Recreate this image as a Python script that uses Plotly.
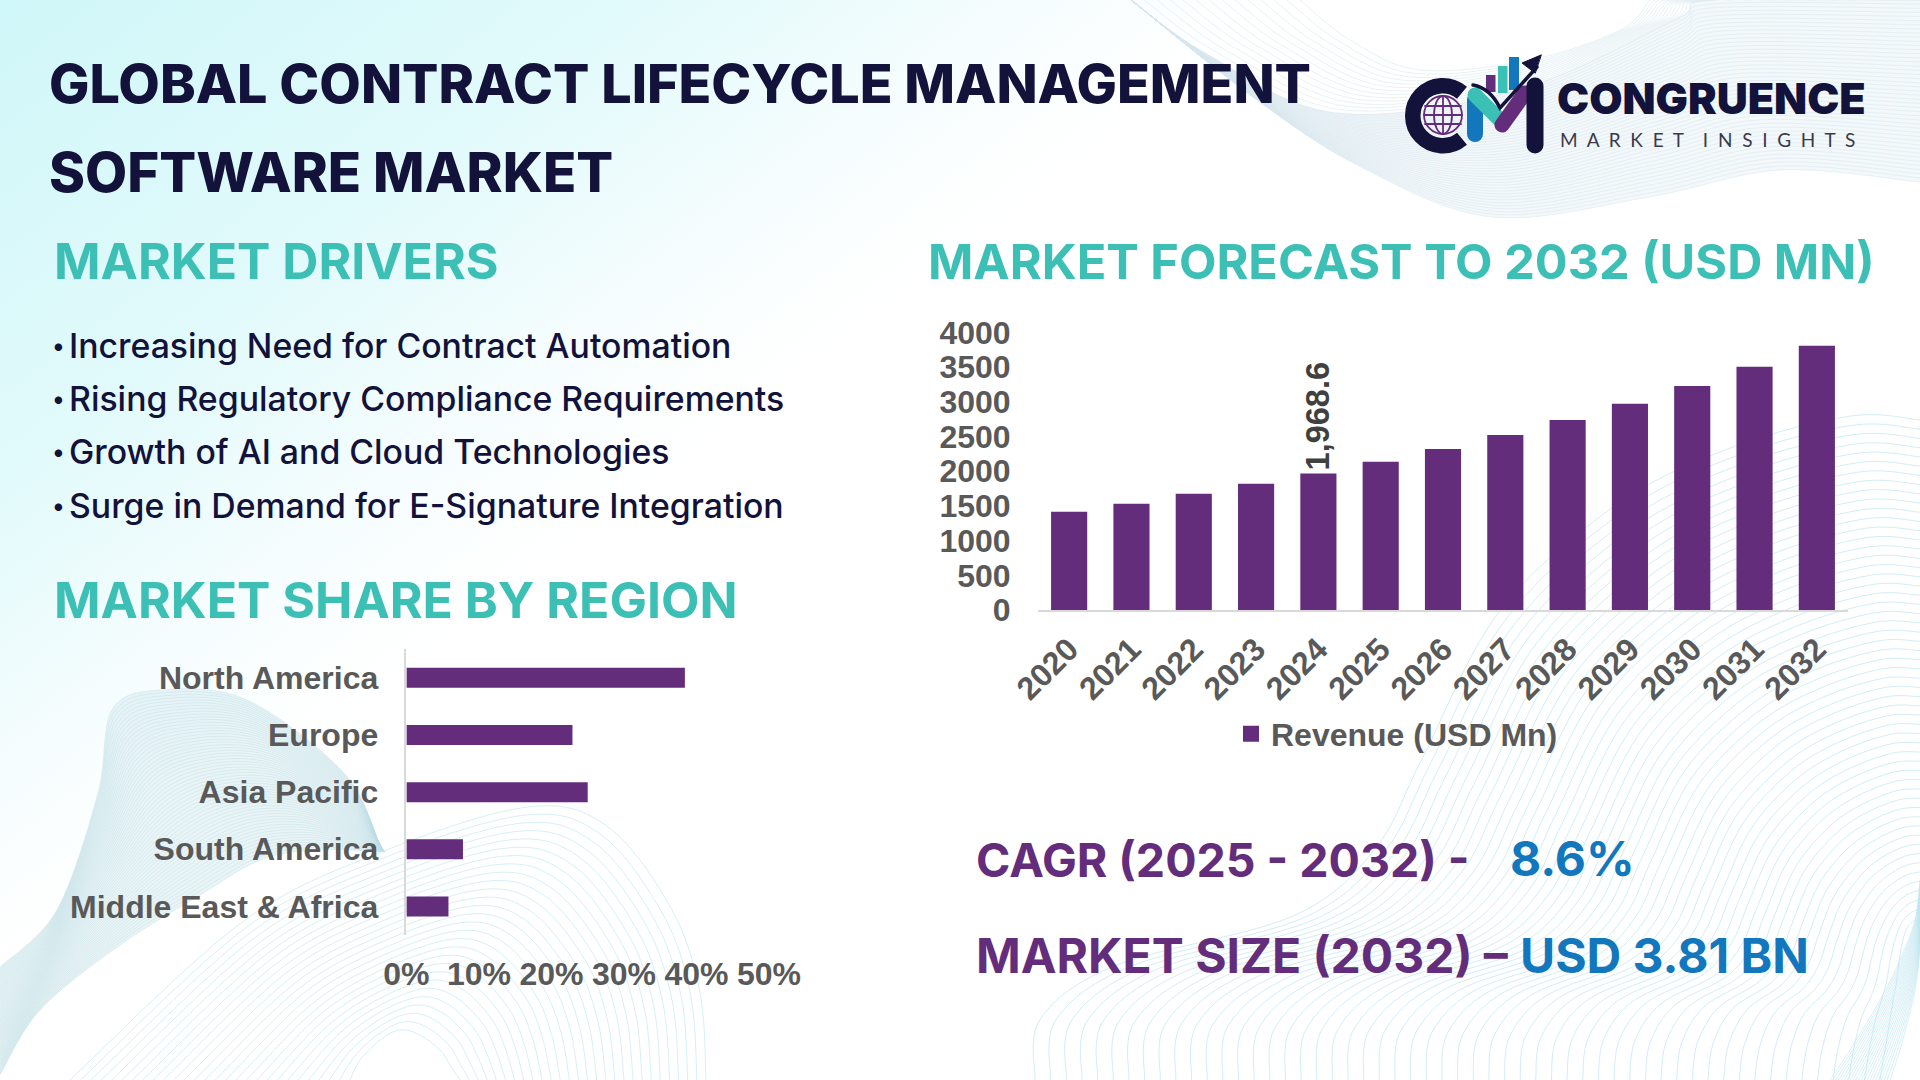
import base64
import numpy as np
import plotly.graph_objects as go

W, H = 1920, 1080
PURPLE, TEAL, NAVY, BLUE, GREY = "#642d7b", "#3cbfb5", "#12123a", "#1277bc", "#595959"

# ---- data ----
years = ["2020","2021","2022","2023","2024","2025","2026","2027","2028","2029","2030","2031","2032"]
revenue = [1415,1530,1675,1820,1968.6,2138,2322,2522,2739,2974,3230,3508,3810]
bar_labels = ["","","","","1,968.6","","","","","","","",""]
regions = ["North America","Europe","Asia Pacific","South America","Middle East & Africa"]
shares = [38.4,22.9,25.0,7.8,5.8]
drivers = ["Increasing Need for Contract Automation","Rising Regulatory Compliance Requirements",
           "Growth of AI and Cloud Technologies","Surge in Demand for E-Signature Integration"]

# ---- decorative backdrop ----
def smooth(pts, move=True):
    p = np.asarray(pts, float)
    d = f"{'M' if move else 'L'}{p[0,0]:.1f},{p[0,1]:.1f}"
    for i in range(len(p)-1):
        a = p[max(i-1,0)]; b = p[i]; c = p[i+1]; e = p[min(i+2,len(p)-1)]
        c1 = b+(c-a)/6; c2 = c-(e-b)/6
        d += f"C{c1[0]:.1f},{c1[1]:.1f} {c2[0]:.1f},{c2[1]:.1f} {c[0]:.1f},{c[1]:.1f}"
    return d

def family(a, b, n, color, op, sw=1.0):
    a = np.asarray(a, float); b = np.asarray(b, float)
    out = []
    for t in np.linspace(0, 1, n):
        out.append(f'<path d="{smooth((1-t)*a+t*b)}" fill="none" stroke="{color}" stroke-opacity="{op}" stroke-width="{sw}"/>')
    return "".join(out)

def body(a, b, color, op):
    return f'<path d="{smooth(a)}{smooth(b[::-1], False)}Z" fill="{color}" fill-opacity="{op}"/>'

tr_up = [(1131,0),(1205,53),(1335,113),(1518,90),(1675,20),(1712,0),(1920,0)]
tr_lo = [(1131,0),(1257,100),(1361,167),(1492,217),(1649,197),(1780,170),(1920,182)]
lobe_o = [(0,967),(57,910),(98,793),(112,710),(161,690),(247,700),(344,773),(379,843)]
lobe_i = [(0,1075),(40,1010),(120,945),(200,895),(260,860),(310,850),(350,850),(385,852)]

svg = [f'<svg xmlns="http://www.w3.org/2000/svg" width="{W}" height="{H}" viewBox="0 0 {W} {H}">',
       '<defs><linearGradient id="g" gradientUnits="userSpaceOnUse" x1="0" y1="0" x2="470" y2="620">'
       '<stop offset="0" stop-color="#d0f7f9"/><stop offset=".5" stop-color="#e2fafb"/>'
       '<stop offset=".8" stop-color="#f6fdfe"/><stop offset="1" stop-color="#ffffff"/></linearGradient></defs>',
       f'<rect width="{W}" height="{H}" fill="#ffffff"/><rect width="{W}" height="{H}" fill="url(#g)"/>']
svg.append(body(tr_up, tr_lo, "#eaf3f6", .55))
svg.append(family(tr_up, tr_lo, 45, "#d5e5ed", .5))
svg.append(family([(1300,0),(1350,40),(1420,70),(1530,60),(1620,30),(1650,0),(1650,0)], tr_up, 14, "#dbe9ef", .6))
svg.append(family([(1035,1080),(1041,1018),(1117,965),(1293,916),(1375,849),(1422,759),(1499,612),(1616,505),(1733,447),(1851,416),(1920,420)],
                  [(1880,1080),(1885,1050),(1890,1020),(1893,1000),(1896,985),(1898,970),(1900,955),(1903,940),(1906,930),(1912,922),(1920,918)],55,"#bfe6f0",.7))
svg.append(family([(1920,880),(1915,920),(1900,960),(1880,1000),(1850,1050),(1830,1080)],
                  [(1920,930),(1919,960),(1915,990),(1908,1020),(1900,1050),(1890,1080)],22,"#bfe6f0",.6))
svg.append(body(lobe_o, lobe_i, "#d3e9ee", .5))
svg.append(family(lobe_o, lobe_i, 60, "#bcdde4", .5, .8))
svg.append(family([(70,1080),(241,923),(379,853),(528,807),(608,827),(672,910),(700,993),(706,1080)],
                  [(350,1080),(360,1060),(380,1040),(400,1030),(420,1035),(440,1050),(450,1065),(460,1080)],28,"#c5e8ef",.7))
svg.append('<g fill="none" stroke-linecap="round">'
           f'<path d="M1462,92.7 A30,30 0 1 0 1462,138.7" stroke="{NAVY}" stroke-width="15.5" stroke-linecap="butt"/>'
           f'<g stroke="{PURPLE}" stroke-width="1.8"><circle cx="1443" cy="115" r="19"/>'
           '<ellipse cx="1443" cy="115" rx="9" ry="19"/><path d="M1443,96V134M1425,106H1461M1424,115H1462M1425,124H1461"/></g>'
           f'<rect x="1486" y="75" width="9.5" height="17" fill="{PURPLE}"/>'
           f'<rect x="1498" y="66" width="9.5" height="27" fill="{TEAL}"/>'
           f'<rect x="1509" y="57" width="10" height="33" fill="{BLUE}"/>'
           f'<path d="M1475,100V134" stroke="{BLUE}" stroke-width="16"/>'
           f'<path d="M1475,95L1500,120" stroke="{TEAL}" stroke-width="15"/>'
           f'<path d="M1502,125L1525,93" stroke="{PURPLE}" stroke-width="15"/>'
           f'<path d="M1535,86V145" stroke="{NAVY}" stroke-width="17"/>'
           f'<path d="M1473,85Q1490,88 1500,108L1537,67" stroke="{NAVY}" stroke-width="3.5"/>'
           f'<path d="M1541,55L1522,63L1535,73Z" fill="{NAVY}" stroke="{NAVY}"/></g>')
svg.append('</svg>')
src = "data:image/svg+xml;base64," + base64.b64encode("".join(svg).encode()).decode()

# ---- figure ----
def fx(a, b): return [a/W, b/W]
def fy(top, bottom): return [1-bottom/H, 1-top/H]
tickfont = dict(family="Liberation Sans", size=32, color=GREY, weight=700)

fig = go.Figure()
fig.add_bar(x=years, y=revenue, xaxis="x", yaxis="y", marker_color=PURPLE, width=0.58, showlegend=False,
            text=bar_labels, textposition="outside", textangle=-90, cliponaxis=False, constraintext="none",
            textfont=dict(family="Liberation Sans", size=32.5, color="#404040", weight=700), hoverinfo="x+y")
fig.add_scatter(x=[None], y=[None], xaxis="x", yaxis="y", mode="markers", name="Revenue (USD Mn)",
                marker=dict(symbol="square", size=18, color=PURPLE), showlegend=True)
fig.add_bar(x=shares, y=regions, orientation="h", xaxis="x2", yaxis="y2", marker_color=PURPLE, width=0.35, showlegend=False)

def ann(text, x, y, size, color, weight=700, family="Inter", anchor="left"):
    return dict(text=text, xref="paper", yref="paper", x=x/W, y=1-y/H, xanchor=anchor, yanchor="middle",
                showarrow=False, borderpad=0, borderwidth=0,
                font=dict(family=family, size=size, color=color, weight=weight))

GAP = "\u00a0\u00a0"
anns = [
    ann("GLOBAL CONTRACT LIFECYCLE MANAGEMENT", 49, 84, 53.8, NAVY, 800),
    ann("SOFTWARE MARKET", 49, 172, 54.6, NAVY, 800),
    ann("MARKET DRIVERS", 54, 261, 50, TEAL, 700),
    ann("MARKET FORECAST TO 2032 (USD MN)", 928, 261, 48.7, TEAL, 700),
    ann("MARKET SHARE BY REGION", 54, 600, 50, TEAL, 700),
    ann("CAGR (2025 - 2032) -", 976, 860, 46.5, PURPLE, 700),
    ann("8.6%", 1510, 858, 48, BLUE, 700),
    ann("MARKET SIZE (2032) –", 976, 955, 48, PURPLE, 700),
    ann("USD 3.81 BN", 1520, 955, 48, BLUE, 700),
    ann("CONGRUENCE", 1557, 98, 43, NAVY, 900),
    ann(GAP.join("MARKET") + GAP*2 + GAP.join("INSIGHTS"), 1560, 139, 19, "#3a3a4a", 400, "Lato"),
]
for i, d in enumerate(drivers):
    y = 345 + i*53.4
    anns.append(ann("•", 52, y, 24, NAVY, 500))
    anns.append(ann(d, 69, y, 33.8, NAVY, 500))

fig.update_layout(
    template="none",
    width=W, height=H, margin=dict(l=0, r=0, t=0, b=0, autoexpand=False), autosize=False,
    paper_bgcolor="white", plot_bgcolor="rgba(0,0,0,0)",
    images=[dict(source=src, xref="paper", yref="paper", x=0, y=1, sizex=1, sizey=1,
                 xanchor="left", yanchor="top", sizing="stretch", layer="below")],
    annotations=anns, bargap=0.42,
    legend=dict(x=1231/W, y=1-734/H, xanchor="left", yanchor="middle", bgcolor="rgba(0,0,0,0)",
                font=dict(family="Liberation Sans", size=32, color=GREY, weight=700), itemwidth=30),
    xaxis=dict(domain=fx(1038,1848), type="category", anchor="y", tickangle=-45, tickfont=tickfont, color=GREY, automargin=False,
               showgrid=False, showline=True, linecolor="#d9d9d9", linewidth=1.5, ticks="outside", ticklen=6,
               tickcolor="rgba(0,0,0,0)", zeroline=False),
    yaxis=dict(domain=fy(332.5,610), range=[0,4000], dtick=500, anchor="x", tickfont=tickfont, color=GREY, automargin=False,
               tickformat="d", showgrid=False, showline=False, zeroline=False, ticks="outside", ticklen=20,
               tickcolor="rgba(0,0,0,0)"),
    xaxis2=dict(domain=fx(406.4,769), range=[0,50], dtick=10, ticksuffix="%", anchor="y2", tickfont=tickfont, color=GREY, automargin=False,
                showgrid=False, showline=False, zeroline=False, ticks="outside", ticklen=11, tickcolor="rgba(0,0,0,0)"),
    yaxis2=dict(domain=fy(649.3,935), type="category", autorange="reversed", anchor="x2", tickfont=tickfont, color=GREY, automargin=False,
                showgrid=False, showline=True, linecolor="#d9d9d9", linewidth=1.5, ticks="outside", ticklen=20,
                tickcolor="rgba(0,0,0,0)", zeroline=False),
)
fig.write_html("out.html", config=dict(displayModeBar=False),
               post_script="document.body.style.margin='0';")
